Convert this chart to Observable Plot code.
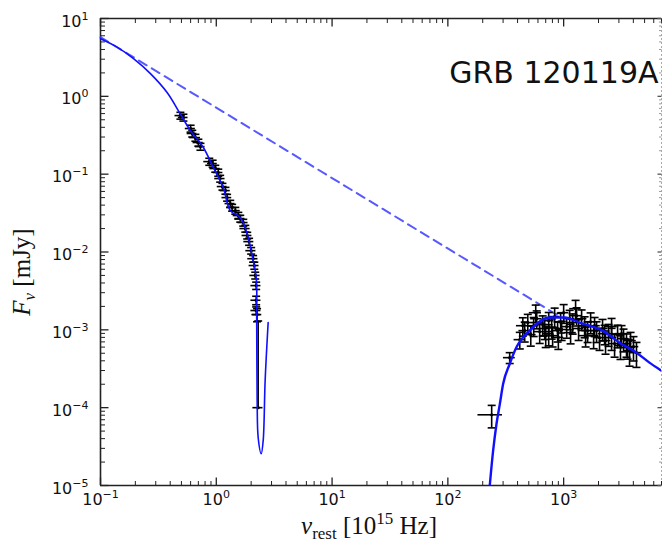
<!DOCTYPE html>
<html>
<head>
<meta charset="utf-8">
<script src="https://cdn.jsdelivr.net/npm/d3@7"></script>
<script src="https://cdn.jsdelivr.net/npm/@observablehq/plot@0.6"></script>
<style>
  html, body { margin: 0; padding: 0; background: #fff; }
  #chart svg { display: block; }
</style>
</head>
<body>
<div id="chart"></div>
<script>
// ---------- tick definitions ----------
const xExp = [-1, 0, 1, 2, 3];
const yExp = [-5, -4, -3, -2, -1, 0, 1];
const xDomain = [0.1, 7000];
const yDomain = [1e-5, 10];
const titleText = "GRB 120119A";

// ---------- optical / UV data (nu in 1e15 Hz, F in mJy) ----------
const optNu = [0.49, 0.52, 0.60, 0.62, 0.66, 0.70, 0.73, 0.87, 0.93, 0.98, 1.04, 1.08, 1.13, 1.20, 1.24, 1.32, 1.37, 1.46, 1.55, 1.61, 1.71, 1.78, 1.85, 1.92, 2.00, 2.08, 2.13, 2.17, 2.21, 2.21, 2.21, 2.25, 2.30];
const optF = [0.566, 0.535, 0.386, 0.333, 0.295, 0.255, 0.226, 0.145, 0.137, 0.118, 0.105, 0.0878, 0.0693, 0.0615, 0.0500, 0.0419, 0.0372, 0.0340, 0.0294, 0.0269, 0.0239, 0.0200, 0.0163, 0.0136, 0.0104, 0.0082, 0.0067, 0.0050, 0.0037, 0.0024, 0.00177, 0.00157, 0.0001];
const optFerr = [0.057, 0.054, 0.039, 0.033, 0.030, 0.026, 0.023, 0.015, 0.014, 0.012, 0.011, 0.0088, 0.0069, 0.0062, 0.0050, 0.0042, 0.0037, 0.0034, 0.0029, 0.0027, 0.0024, 0.0020, 0.0016, 0.0014, 0.0010, 0.0008, 0.0007, 0.0005, 0.0004, 0.0003, 0.0002, 0.0003, 0.0012];
const optNuErr = [0.05, 0.05, 0.06, 0.06, 0.07, 0.07, 0.07, 0.09, 0.09, 0.10, 0.10, 0.11, 0.11, 0.12, 0.12, 0.13, 0.14, 0.15, 0.15, 0.16, 0.17, 0.18, 0.18, 0.19, 0.20, 0.21, 0.21, 0.22, 0.22, 0.22, 0.22, 0.22, 0.23];

// ---------- X-ray data ----------
const xrNu = [239, 342, 418, 461, 490, 520, 551, 585, 621, 659, 700, 743, 743, 788, 836, 887, 900, 942, 1000, 1062, 1127, 1196, 1268, 1346, 1429, 1517, 1611, 1710, 1815, 1924, 2042, 2168, 2301, 2443, 2594, 2754, 2924, 3097, 3289, 3491, 3707, 4010, 4256,
              444, 574, 686, 803, 961, 1148, 1294, 1548, 1850, 2256, 2594, 3162, 3562, 3784];
const xrF = [8.1e-5, 4.39e-4, 7.48e-4, 9.77e-4, 1.24e-3, 8.67e-4, 1.13e-3, 1.39e-3, 9.48e-4, 1.17e-3, 8.42e-4, 1.31e-3, 8.93e-4, 1.07e-3, 1.48e-3, 9.77e-4, 8.0e-4, 1.27e-3, 1.66e-3, 1.10e-3, 1.39e-3, 1.24e-3, 1.87e-3, 1.04e-3, 1.39e-3, 1.13e-3, 9.77e-4, 1.27e-3, 8.42e-4, 9.77e-4, 7.94e-4, 1.04e-3, 7.26e-4, 8.93e-4, 7.94e-4, 6.65e-4, 8.67e-4, 6.26e-4, 7.71e-4, 6.65e-4, 5.41e-4, 6.08e-4, 5.09e-4,
             1.13e-3, 1.66e-3, 1.04e-3, 8.42e-4, 1.01e-3, 9.2e-4, 1.52e-3, 8.42e-4, 1.13e-3, 8.93e-4, 1.10e-3, 8.93e-4, 5.9e-4, 7.26e-4];
const xrFerr = [2.6e-5, 7e-5, 1.8e-4, 2.8e-4, 3.4e-4, 2.5e-4, 3.1e-4, 3.6e-4, 2.8e-4, 3.4e-4, 2.5e-4, 3.6e-4, 2.7e-4, 3.1e-4, 4.2e-4, 2.8e-4, 2.4e-4, 3.6e-4, 4.5e-4, 3.2e-4, 3.9e-4, 3.6e-4, 5.2e-4, 3.1e-4, 4.1e-4, 3.4e-4, 2.9e-4, 3.8e-4, 2.7e-4, 2.9e-4, 2.5e-4, 3.2e-4, 2.4e-4, 2.8e-4, 2.5e-4, 2.2e-4, 2.8e-4, 2.1e-4, 2.5e-4, 2.2e-4, 2.0e-4, 2.1e-4, 1.8e-4,
                3.0e-4, 4.2e-4, 2.9e-4, 2.4e-4, 2.8e-4, 2.6e-4, 4.0e-4, 2.4e-4, 3.1e-4, 2.5e-4, 3.0e-4, 2.4e-4, 1.7e-4, 2.0e-4];
const xrNuErr = [57, 40, 45, 50, 55, 58, 62, 66, 70, 74, 78, 83, 83, 88, 93, 99, 100, 105, 110, 118, 125, 133, 140, 150, 158, 168, 178, 190, 200, 213, 226, 240, 255, 270, 287, 305, 324, 343, 364, 387, 410, 444, 471,
                 53, 69, 82, 96, 115, 138, 155, 186, 222, 270, 311, 380, 427, 454];

// ---------- model curves ----------
const dashNu = [0.1, 925];
const dashF = [5.75, 1.48e-3];
const optModelNu = [0.1, 0.139, 0.194, 0.270, 0.376, 0.490, 0.597, 0.773, 0.942, 1.148, 1.321, 1.611, 1.849, 2.084, 2.213, 2.234, 2.254, 2.301, 2.443, 2.541, 2.642, 2.805];
const optModelF = [5.48, 4.28, 3.03, 1.96, 1.12, 0.590, 0.363, 0.220, 0.122, 0.0673, 0.0340, 0.0277, 0.0172, 0.00774, 0.00469, 0.00131, 1.23e-4, 4.11e-5, 2.56e-5, 3.77e-5, 2.22e-4, 1.24e-3];
const xrModelNu = [225, 230, 246, 263, 281, 300, 342, 391, 509, 757, 1021, 1374, 2168, 3041, 4256, 5508, 7000];
const xrModelF = [7e-6, 1e-5, 2.80e-5, 6.17e-5, 1.11e-4, 2.01e-4, 3.64e-4, 5.96e-4, 9.77e-4, 1.44e-3, 1.44e-3, 1.24e-3, 9.77e-4, 6.84e-4, 5.09e-4, 3.79e-4, 2.99e-4];

// ---------- tables built from the arrays ----------
function points(nu, f, fe, nue) {
  return nu.map((n, i) => ({
    nu: n, f: f[i],
    flo: f[i] - fe[i] > 0 ? f[i] - fe[i] : f[i],
    fhi: f[i] + fe[i],
    nulo: n - nue[i], nuhi: n + nue[i]
  }));
}
const pts = points(optNu, optF, optFerr, optNuErr).concat(points(xrNu, xrF, xrFerr, xrNuErr));
const curve = (xs, ys) => xs.map((x, i) => ({x, y: ys[i]}));
const dashLine = curve(dashNu, dashF);
const optModel = curve(optModelNu, optModelF);
const xrModel = curve(xrModelNu, xrModelF);

const decadeTicks = (dom) => d3.scaleLog().domain(dom).ticks();
const xMajor = xExp.map(e => 10 ** e);
const yMajor = yExp.map(e => 10 ** e);
const isPow = v => Math.abs(Math.log10(v) - Math.round(Math.log10(v))) < 1e-9;
const xMinor = decadeTicks(xDomain).filter(v => !isPow(v));
const yMinor = decadeTicks(yDomain).filter(v => !isPow(v));

// symbols: segments whose length is the dot radius
const seg = (dx, dy) => ({ draw(ctx, size) { const r = Math.sqrt(size / Math.PI); ctx.moveTo(0, 0); ctx.lineTo(dx * r, dy * r); } });
const cap = { draw(ctx, size) { const w = Math.sqrt(size / Math.PI); ctx.moveTo(-w, 0); ctx.lineTo(w, 0); } };
const tickUp = seg(0, -1), tickDown = seg(0, 1), tickRight = seg(1, 0), tickLeft = seg(-1, 0);

const W = 662, H = 554, mL = 100, mR = 1, mT = 18, mB = 69;
const axisColor = "#222";
const tk = (data, anchor, sym, r, stroke, sw, ch) =>
  Plot.dot(data, {[ch]: d => d, frameAnchor: anchor, symbol: sym, r, fill: "none", stroke, strokeWidth: sw});

const chart = Plot.plot({
  width: W, height: H,
  marginLeft: mL, marginRight: mR, marginTop: mT, marginBottom: mB,
  x: {type: "log", domain: xDomain, axis: null},
  y: {type: "log", domain: yDomain, axis: null},
  style: {fontFamily: "DejaVu Sans", background: "white", color: "#111", overflow: "visible"},
  marks: [
    // frame
    Plot.ruleX([xDomain[1]], {stroke: "#aaa", strokeWidth: 1, strokeDasharray: "2,2"}),
    Plot.ruleX([xDomain[0]], {stroke: axisColor, strokeWidth: 1.6}),
    Plot.ruleY([yDomain[0]], {stroke: axisColor, strokeWidth: 1.6}),
    Plot.ruleY([yDomain[1]], {stroke: axisColor, strokeWidth: 1.6}),
    // inward ticks
    tk(xMinor, "bottom", tickUp, 4.5, axisColor, 1, "x"),
    tk(xMajor, "bottom", tickUp, 8, axisColor, 1.3, "x"),
    tk(xMinor, "top", tickDown, 4.5, axisColor, 1, "x"),
    tk(xMajor, "top", tickDown, 8, axisColor, 1.3, "x"),
    tk(yMinor, "left", tickRight, 4.5, axisColor, 1, "y"),
    tk(yMajor, "left", tickRight, 8, axisColor, 1.3, "y"),
    tk(yMinor, "right", tickLeft, 2.5, "#999", 1, "y"),
    tk(yMajor, "right", tickLeft, 4, "#555", 1.3, "y"),
    // unabsorbed power law
    Plot.line(dashLine, {x: "x", y: "y", stroke: "#3b3bff", strokeWidth: 2, strokeDasharray: "9,6", strokeOpacity: 0.85}),
    // data error bars
    Plot.ruleX(pts, {x: "nu", y1: "flo", y2: "fhi", stroke: "black", strokeWidth: 1.6}),
    Plot.ruleY(pts, {y: "f", x1: "nulo", x2: "nuhi", stroke: "black", strokeWidth: 1.6}),
    Plot.dot(pts, {x: "nu", y: "fhi", symbol: cap, r: 4, fill: "none", stroke: "black", strokeWidth: 1.6}),
    Plot.dot(pts.filter(d => d.flo < d.f), {x: "nu", y: "flo", symbol: cap, r: 4, fill: "none", stroke: "black", strokeWidth: 1.6}),
    Plot.dot(pts, {x: "nu", y: "f", r: 1.6, fill: "black", stroke: "none"}),
    // absorbed models
    Plot.line(optModel, {x: "x", y: "y", stroke: "#1010ff", strokeWidth: 1.6, curve: "catmull-rom"}),
    Plot.line(xrModel, {x: "x", y: "y", stroke: "#1010ff", strokeWidth: 2.4, curve: "monotone-x", clip: true}),
    // tick labels
    Plot.text(xExp, {x: d => 10 ** d, frameAnchor: "bottom", dy: 19, text: d => "10^" + d, fontSize: 16, textAnchor: "middle", fill: "#111"}),
    Plot.text(yExp, {y: d => 10 ** d, frameAnchor: "left", dx: -12, dy: 3, text: d => "10^" + d, fontSize: 16, textAnchor: "end", fill: "#111"}),
    // title inside plot
    Plot.text([titleText], {frameAnchor: "top-right", dx: -3, dy: 55, text: d => d, fontSize: 30, textAnchor: "end", lineAnchor: "middle", fill: "#111"}),
    // axis labels
    Plot.text(["νrest [1015 Hz]"], {frameAnchor: "bottom", dx: -12, dy: 48, text: d => d, fontFamily: "Liberation Serif", fontSize: 25, textAnchor: "middle", fill: "#111"}),
    Plot.text(["Fν [mJy]"], {frameAnchor: "left", dx: -79, dy: 20, rotate: -90, text: d => d, fontFamily: "Liberation Serif", fontSize: 25, textAnchor: "middle", fill: "#111"})
  ]
});

document.getElementById("chart").appendChild(chart);

// ---------- mathtext-like formatting ----------
const svg = d3.select(chart);
svg.selectAll("text").each(function () {
  const t = d3.select(this);
  const s = this.textContent;
  if (/^10\^/.test(s)) {
    const [b, e] = s.split("^");
    t.text(null);
    t.append("tspan").text(b);
    t.append("tspan").attr("font-size", 11).attr("dy", -7).text(e.replace("-", "\u2212"));
  } else if (s === "νrest [1015 Hz]") {
    t.text(null);
    t.append("tspan").attr("font-style", "italic").text("ν");
    t.append("tspan").attr("font-size", 17).attr("dy", 5).text("rest");
    t.append("tspan").attr("dy", -5).text(" [10");
    t.append("tspan").attr("font-size", 17).attr("dy", -10).text("15");
    t.append("tspan").attr("dy", 10).text(" Hz]");
  } else if (s === "Fν [mJy]") {
    t.text(null);
    t.append("tspan").attr("font-style", "italic").text("F");
    t.append("tspan").attr("font-style", "italic").attr("font-size", 17).attr("dy", 5).text("ν");
    t.append("tspan").attr("dy", -5).text(" [mJy]");
  }
});
</script>
</body>
</html>
